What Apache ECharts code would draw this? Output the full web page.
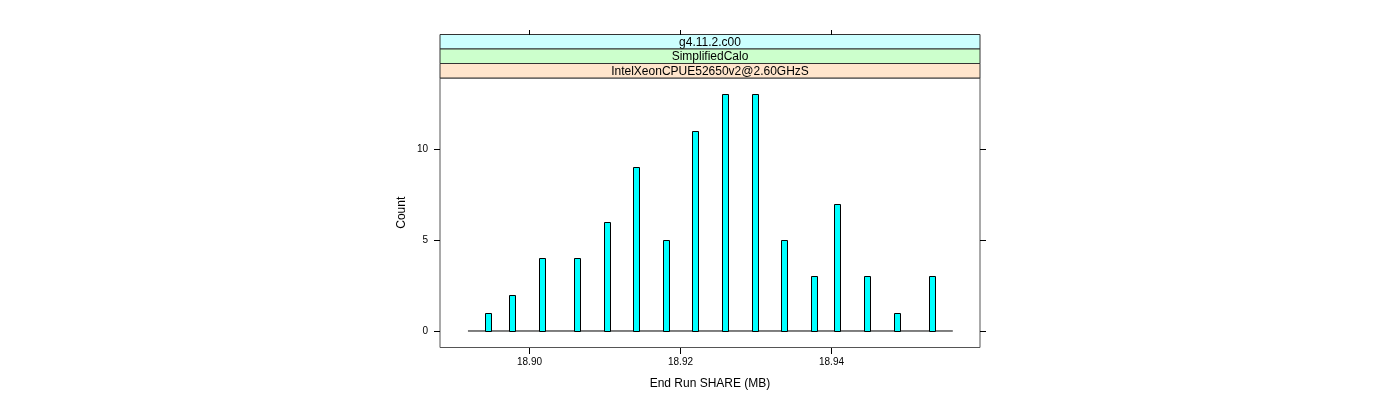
<!DOCTYPE html>
<html>
<head>
<meta charset="utf-8">
<script src="https://cdn.jsdelivr.net/npm/echarts@6/dist/echarts.min.js"></script>
<style>html,body{margin:0;padding:0;background:#fff;}#c{width:1400px;height:400px;}</style>
</head>
<body>
<div id="c"></div>
<script>
// Histogram bins (lower edges, MB) that have a non-zero count
const binLeft = [18.8942, 18.8974, 18.9013, 18.9060, 18.9099, 18.9138, 18.9177, 18.9216,
                 18.9256, 18.9295, 18.9334, 18.9373, 18.9404, 18.9443, 18.9483, 18.9530];
const counts  = [1, 2, 4, 4, 6, 9, 5, 11, 13, 13, 5, 3, 7, 3, 1, 3];
const binWidth = 0.000783;
const histRange = [18.8919, 18.9561];
const xTicks = [18.90, 18.92, 18.94];
const xTickLabels = ['18.90', '18.92', '18.94'];
const yTicks = [0, 5, 10];
const yTickLabels = ['0', '5', '10'];
const strips = ['g4.11.2.c00', 'SimplifiedCalo', 'IntelXeonCPUE52650v2@2.60GHzS'];
const stripColors = ['#ccffff', '#ccffcc', '#ffe5cc'];
const xTitle = 'End Run SHARE (MB)';
const yTitle = 'Count';

const FONT = '"Liberation Sans", Arial, Helvetica, sans-serif';
const G = {left: 440, right: 420, top: 78, bottom: 52.5};
const stripH = 14.5;
const plotW = 1400 - G.left - G.right;
const XR = [18.8882, 18.9597];
const YR = [-0.907, 13.9];
const TL = 6;

const chart = echarts.init(document.getElementById('c'), null, {renderer: 'canvas'});

const stripGraphics = [];
strips.forEach((s, i) => {
  const top = G.top - stripH * (strips.length - i);
  stripGraphics.push({
    type: 'rect', silent: true,
    shape: {x: G.left, y: top, width: plotW, height: stripH},
    style: {fill: stripColors[i], stroke: '#333', lineWidth: 1}
  });
  stripGraphics.push({
    type: 'text', silent: true,
    x: G.left + plotW / 2, y: top + stripH / 2 + 0.5,
    style: {text: s, fill: '#000', font: '12px ' + FONT, align: 'center', verticalAlign: 'middle'}
  });
});

chart.setOption({
  animation: false,
  backgroundColor: '#fff',
  grid: {left: G.left, right: G.right, top: G.top, bottom: G.bottom, show: true,
         borderColor: '#555', borderWidth: 1, backgroundColor: 'transparent'},
  xAxis: [{
    type: 'value', min: XR[0], max: XR[1], show: true,
    axisLine: {show: false, onZero: false}, splitLine: {show: false},
    axisTick: {show: false}, axisLabel: {show: false}
  }],
  yAxis: [{
    type: 'value', min: YR[0], max: YR[1], show: true,
    axisLine: {show: false, onZero: false}, splitLine: {show: false},
    axisTick: {show: false}, axisLabel: {show: false}
  }],
  series: [{
    type: 'line', silent: true, symbol: 'none',
    data: [[histRange[0], 0], [histRange[1], 0]],
    lineStyle: {color: '#000', width: 1}, z: 2
  }, {
    type: 'custom', silent: true, z: 3,
    data: binLeft.map((x, i) => [x, counts[i]]),
    renderItem: function (params, api) {
      const x0 = api.value(0), c = api.value(1);
      const p0 = api.coord([x0, 0]);
      const p1 = api.coord([x0 + binWidth, c]);
      const xl = Math.round(p0[0]) + 0.5, xr = Math.round(p1[0]) + 0.5;
      const yb = Math.round(p0[1]) + 0.5, yt = Math.round(p1[1]) + 0.5;
      return {type: 'rect', shape: {x: xl, y: yt, width: xr - xl, height: yb - yt},
              style: {fill: '#00ffff', stroke: '#000', lineWidth: 1}};
    }
  }],
  graphic: stripGraphics
});

// Tick marks, tick labels and axis titles, placed through the chart's own axis scales
const tickLine = {stroke: '#000', lineWidth: 1};
const extra = [];
xTicks.forEach((v, i) => {
  const pb = chart.convertToPixel({gridIndex: 0}, [v, YR[0]]);
  const pt = chart.convertToPixel({gridIndex: 0}, [v, YR[1]]);
  const x = Math.round(pb[0]) + 0.5;
  const yb = Math.round(pb[1]);
  const ys = Math.round(pt[1] - stripH * strips.length);
  extra.push({type: 'line', silent: true, z: 100, shape: {x1: x, y1: yb, x2: x, y2: yb + TL}, style: tickLine});
  extra.push({type: 'line', silent: true, z: 100, shape: {x1: x, y1: ys, x2: x, y2: ys - TL + 1}, style: tickLine});
  extra.push({type: 'text', silent: true, z: 100, x: x, y: yb + 9,
              style: {text: xTickLabels[i], fill: '#000', font: '10px ' + FONT, align: 'center', verticalAlign: 'top'}});
});
yTicks.forEach((v, i) => {
  const pl = chart.convertToPixel({gridIndex: 0}, [XR[0], v]);
  const pr = chart.convertToPixel({gridIndex: 0}, [XR[1], v]);
  const y = Math.round(pl[1]) + 0.5;
  const xl = Math.round(pl[0]), xr = Math.round(pr[0]);
  extra.push({type: 'line', silent: true, z: 100, shape: {x1: xl, y1: y, x2: xl - TL, y2: y}, style: tickLine});
  extra.push({type: 'line', silent: true, z: 100, shape: {x1: xr, y1: y, x2: xr + TL, y2: y}, style: tickLine});
  extra.push({type: 'text', silent: true, z: 100, x: xl - 12, y: y,
              style: {text: yTickLabels[i], fill: '#000', font: '10px ' + FONT, align: 'right', verticalAlign: 'middle'}});
});
const pBL = chart.convertToPixel({gridIndex: 0}, [XR[0], YR[0]]);
const pTR = chart.convertToPixel({gridIndex: 0}, [XR[1], YR[1]]);
extra.push({type: 'text', silent: true, z: 100, x: (pBL[0] + pTR[0]) / 2, y: pBL[1] + 36,
            style: {text: xTitle, fill: '#000', font: '12px ' + FONT, align: 'center', verticalAlign: 'middle'}});
extra.push({type: 'text', silent: true, z: 100, x: pBL[0] - 38, y: (pBL[1] + pTR[1]) / 2, rotation: Math.PI / 2,
            style: {text: yTitle, fill: '#000', font: '12px ' + FONT, align: 'center', verticalAlign: 'middle'}});
chart.setOption({graphic: stripGraphics.concat(extra)});
</script>
</body>
</html>
